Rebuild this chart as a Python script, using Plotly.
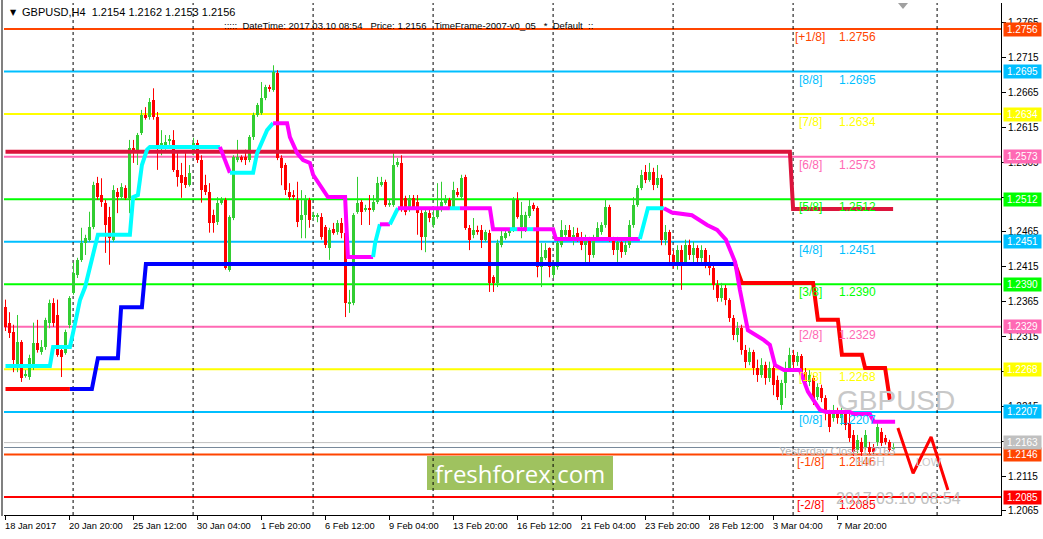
import plotly.graph_objects as go

# ---------------- data ----------------
open_ = [1.2358,1.2335,1.2322,1.2270,1.2307,1.2259,1.2257,1.2271,1.2306,1.2293,
         1.2300,1.2335,1.2363,1.2346,1.2296,1.2292,1.2332,1.2378,1.2403,1.2425,
         1.2449,1.2454,1.2472,1.2535,1.2518,1.2507,1.2487,1.2454,1.2522,1.2515,
         1.2528,1.2514,1.2585,1.2583,1.2607,1.2633,1.2630,1.2654,1.2630,1.2590,
         1.2585,1.2596,1.2597,1.2554,1.2547,1.2544,1.2532,1.2583,1.2593,1.2568,
         1.2532,1.2522,1.2489,1.2479,1.2507,1.2511,1.2411,1.2485,1.2568,1.2573,
         1.2573,1.2568,1.2601,1.2633,1.2636,1.2657,1.2673,1.2669,1.2693,1.2571,
         1.2561,1.2522,1.2518,1.2511,1.2482,1.2489,1.2511,1.2487,1.2487,1.2487,
         1.2472,1.2442,1.2469,1.2465,1.2478,1.2464,1.2363,1.2363,1.2494,1.2508,
         1.2497,1.2499,1.2497,1.2508,1.2532,1.2537,1.2504,1.2504,1.2561,1.2564,
         1.2514,1.2497,1.2514,1.2508,1.2492,1.2458,1.2492,1.2475,1.2487,1.2497,
         1.2507,1.2511,1.2499,1.2522,1.2515,1.2544,1.2471,1.2461,1.2468,1.2468,
         1.2454,1.2464,1.2400,1.2392,1.2446,1.2456,1.2464,1.2468,1.2511,1.2472,
         1.2471,1.2488,1.2504,1.2499,1.2415,1.2428,1.2442,1.2403,1.2415,1.2446,
         1.2461,1.2468,1.2456,1.2464,1.2456,1.2446,1.2454,1.2432,1.2456,1.2465,
         1.2475,1.2501,1.2454,1.2439,1.2451,1.2436,1.2446,1.2475,1.2504,1.2528,
         1.2551,1.2540,1.2551,1.2532,1.2542,1.2454,1.2465,1.2432,1.2422,1.2439,
         1.2422,1.2446,1.2432,1.2442,1.2428,1.2439,1.2422,1.2413,1.2389,1.2370,
         1.2385,1.2368,1.2342,1.2317,1.2327,1.2296,1.2279,1.2293,1.2270,1.2260,
         1.2274,1.2256,1.2270,1.2253,1.2217,1.2249,1.2270,1.2289,1.2279,1.2287,
         1.2264,1.2250,1.2256,1.2228,1.2241,1.2227,1.2205,1.2198,1.2207,1.2198,
         1.2205,1.2191,1.2174,1.2152,1.2164,1.2157,1.2157,1.2157,1.2164,1.2178,
         1.2170,1.2164,1.2154]
high = [1.2368,1.2350,1.2332,1.2346,1.2310,1.2267,1.2289,1.2335,1.2339,1.2310,
        1.2342,1.2368,1.2370,1.2368,1.2303,1.2325,1.2373,1.2421,1.2428,1.2471,
        1.2461,1.2494,1.2537,1.2544,1.2542,1.2511,1.2501,1.2532,1.2528,1.2535,
        1.2532,1.2597,1.2597,1.2607,1.2640,1.2644,1.2657,1.2671,1.2637,1.2611,
        1.2604,1.2604,1.2611,1.2578,1.2564,1.2578,1.2561,1.2600,1.2597,1.2575,
        1.2547,1.2535,1.2497,1.2515,1.2515,1.2514,1.2489,1.2575,1.2597,1.2575,
        1.2583,1.2604,1.2636,1.2650,1.2680,1.2676,1.2676,1.2704,1.2697,1.2575,
        1.2564,1.2535,1.2525,1.2537,1.2525,1.2518,1.2514,1.2494,1.2492,1.2492,
        1.2475,1.2471,1.2478,1.2482,1.2485,1.2468,1.2382,1.2492,1.2544,1.2511,
        1.2504,1.2518,1.2518,1.2544,1.2544,1.2540,1.2511,1.2578,1.2571,1.2575,
        1.2517,1.2518,1.2518,1.2518,1.2497,1.2497,1.2499,1.2499,1.2535,1.2537,
        1.2518,1.2514,1.2537,1.2528,1.2547,1.2547,1.2475,1.2485,1.2474,1.2475,
        1.2468,1.2468,1.2403,1.2454,1.2468,1.2468,1.2471,1.2515,1.2522,1.2508,
        1.2494,1.2511,1.2507,1.2502,1.2449,1.2449,1.2443,1.2422,1.2454,1.2482,
        1.2475,1.2475,1.2472,1.2471,1.2465,1.2461,1.2458,1.2461,1.2479,1.2479,
        1.2511,1.2504,1.2458,1.2458,1.2454,1.2454,1.2482,1.2515,1.2532,1.2554,
        1.2561,1.2564,1.2557,1.2561,1.2547,1.2475,1.2468,1.2439,1.2446,1.2446,
        1.2454,1.2454,1.2451,1.2446,1.2446,1.2442,1.2432,1.2418,1.2396,1.2392,
        1.2389,1.2370,1.2346,1.2336,1.2332,1.2303,1.2299,1.2296,1.2282,1.2284,
        1.2279,1.2279,1.2274,1.2259,1.2253,1.2279,1.2299,1.2296,1.2293,1.2290,
        1.2270,1.2267,1.2260,1.2248,1.2246,1.2231,1.2210,1.2217,1.2213,1.2213,
        1.2210,1.2207,1.2181,1.2174,1.2170,1.2181,1.2164,1.2161,1.2191,1.2184,
        1.2174,1.2167,1.2162]
low = [1.2323,1.2313,1.2264,1.2264,1.2250,1.2256,1.2253,1.2267,1.2292,1.2289,
       1.2296,1.2327,1.2329,1.2286,1.2257,1.2289,1.2327,1.2375,1.2399,1.2422,
       1.2432,1.2451,1.2469,1.2511,1.2501,1.2435,1.2418,1.2451,1.2492,1.2511,
       1.2511,1.2492,1.2564,1.2561,1.2604,1.2626,1.2626,1.2626,1.2554,1.2575,
       1.2583,1.2590,1.2551,1.2530,1.2514,1.2528,1.2530,1.2575,1.2564,1.2507,
       1.2518,1.2464,1.2464,1.2475,1.2504,1.2411,1.2408,1.2482,1.2565,1.2565,
       1.2561,1.2565,1.2597,1.2630,1.2633,1.2654,1.2666,1.2666,1.2568,1.2532,
       1.2518,1.2511,1.2511,1.2472,1.2456,1.2456,1.2471,1.2482,1.2479,1.2454,
       1.2442,1.2425,1.2461,1.2461,1.2456,1.2343,1.2349,1.2360,1.2491,1.2475,
       1.2494,1.2475,1.2494,1.2505,1.2530,1.2501,1.2501,1.2501,1.2558,1.2494,
       1.2489,1.2494,1.2497,1.2461,1.2439,1.2436,1.2479,1.2471,1.2484,1.2494,
       1.2504,1.2498,1.2497,1.2515,1.2512,1.2468,1.2439,1.2456,1.2461,1.2442,
       1.2451,1.2379,1.2379,1.2386,1.2443,1.2454,1.2459,1.2465,1.2484,1.2456,
       1.2465,1.2485,1.2495,1.2400,1.2386,1.2425,1.2400,1.2399,1.2411,1.2443,
       1.2458,1.2454,1.2446,1.2451,1.2439,1.2422,1.2422,1.2428,1.2454,1.2461,
       1.2471,1.2451,1.2432,1.2422,1.2428,1.2432,1.2442,1.2471,1.2501,1.2525,
       1.2535,1.2537,1.2525,1.2528,1.2446,1.2446,1.2422,1.2413,1.2411,1.2382,
       1.2418,1.2425,1.2422,1.2418,1.2422,1.2413,1.2403,1.2382,1.2365,1.2365,
       1.2360,1.2336,1.2310,1.2307,1.2289,1.2270,1.2274,1.2260,1.2250,1.2256,
       1.2246,1.2250,1.2231,1.2224,1.2210,1.2227,1.2267,1.2270,1.2273,1.2258,
       1.2241,1.2244,1.2217,1.2224,1.2221,1.2195,1.2178,1.2193,1.2190,1.2188,
       1.2181,1.2164,1.2144,1.2148,1.2144,1.2152,1.2145,1.2145,1.2158,1.2158,
       1.2160,1.2150,1.2153]
close = [1.2329,1.2320,1.2282,1.2307,1.2256,1.2261,1.2284,1.2306,1.2296,1.2300,
         1.2339,1.2363,1.2335,1.2289,1.2286,1.2322,1.2370,1.2406,1.2425,1.2449,
         1.2456,1.2472,1.2532,1.2515,1.2508,1.2475,1.2456,1.2525,1.2515,1.2530,
         1.2514,1.2585,1.2578,1.2604,1.2633,1.2628,1.2651,1.2630,1.2585,1.2593,
         1.2594,1.2597,1.2554,1.2544,1.2535,1.2532,1.2550,1.2593,1.2568,1.2525,
         1.2522,1.2478,1.2478,1.2507,1.2511,1.2413,1.2487,1.2573,1.2573,1.2568,
         1.2568,1.2601,1.2633,1.2647,1.2657,1.2673,1.2671,1.2694,1.2571,1.2557,
         1.2525,1.2515,1.2515,1.2479,1.2489,1.2511,1.2482,1.2489,1.2488,1.2458,
         1.2446,1.2468,1.2464,1.2478,1.2464,1.2363,1.2365,1.2489,1.2507,1.2494,
         1.2499,1.2497,1.2508,1.2535,1.2537,1.2504,1.2507,1.2561,1.2565,1.2497,
         1.2494,1.2514,1.2501,1.2492,1.2458,1.2494,1.2485,1.2487,1.2497,1.2508,
         1.2511,1.2501,1.2525,1.2518,1.2542,1.2471,1.2454,1.2468,1.2465,1.2454,
         1.2465,1.2392,1.2392,1.2449,1.2459,1.2464,1.2468,1.2511,1.2487,1.2489,
         1.2489,1.2502,1.2498,1.2415,1.2429,1.2439,1.2415,1.2418,1.2449,1.2468,
         1.2468,1.2458,1.2461,1.2456,1.2446,1.2454,1.2432,1.2456,1.2471,1.2475,
         1.2501,1.2454,1.2439,1.2451,1.2436,1.2446,1.2475,1.2504,1.2528,1.2547,
         1.2540,1.2551,1.2532,1.2542,1.2454,1.2465,1.2432,1.2422,1.2439,1.2422,
         1.2446,1.2432,1.2442,1.2428,1.2439,1.2422,1.2413,1.2389,1.2370,1.2385,
         1.2368,1.2342,1.2317,1.2327,1.2296,1.2279,1.2293,1.2270,1.2260,1.2274,
         1.2256,1.2270,1.2246,1.2228,1.2249,1.2270,1.2289,1.2279,1.2287,1.2264,
         1.2250,1.2260,1.2224,1.2243,1.2227,1.2205,1.2185,1.2207,1.2199,1.2205,
         1.2188,1.2170,1.2150,1.2167,1.2150,1.2174,1.2150,1.2150,1.2185,1.2162,
         1.2164,1.2152,1.2156]

# Murrey math levels
level_names = ["[+1/8]", "[8/8]", "[7/8]", "[6/8]", "[5/8]", "[4/8]",
               "[3/8]", "[2/8]", "[1/8]", "[0/8]", "[-1/8]", "[-2/8]"]
level_values = [1.2756, 1.2695, 1.2634, 1.2573, 1.2512, 1.2451,
                1.2390, 1.2329, 1.2268, 1.2207, 1.2146, 1.2085]
yesterday_close = 1.2163
bid_price = 1.2156

# axis ticks
y_ticks = [1.2065, 1.2115, 1.2165, 1.2215, 1.2265, 1.2315, 1.2365, 1.2415,
           1.2465, 1.2515, 1.2565, 1.2615, 1.2665, 1.2715, 1.2765]
x_tick_bars = [0, 16, 32, 48, 64, 80, 96, 112, 128, 144, 160, 176, 192, 208]
x_tick_labels = ["18 Jan 2017", "20 Jan 20:00", "25 Jan 12:00", "30 Jan 04:00",
                 "1 Feb 20:00", "6 Feb 12:00", "9 Feb 04:00", "13 Feb 20:00",
                 "16 Feb 12:00", "21 Feb 04:00", "23 Feb 20:00", "28 Feb 12:00",
                 "3 Mar 04:00", "7 Mar 20:00"]
grid_bars = [16.9, 46.9, 76.9, 106.9, 136.9, 166.9, 196.9, 232.9]

# trend stop line (state 1 = up/blue, -1 = down/red)
trend_segments = [
    (-1, [0, 16.1], [1.2240, 1.2240]),
    (1, [16.1, 21.6, 23.1, 28.1, 28.9, 34.1, 35.1, 182.4],
        [1.2240, 1.2240, 1.2284, 1.2284, 1.2357, 1.2357, 1.2419, 1.2419]),
    (-1, [182.4, 184.1, 201.9, 203.1, 208.1, 209.1, 214.1, 214.9, 219.9, 221.1],
         [1.2419, 1.2392, 1.2392, 1.2339, 1.2339, 1.2289, 1.2289, 1.2270, 1.2270, 1.2224]),
]
# trailing line (1 = cyan, -1 = magenta)
trail_segments = [
    (1, [0, 11.1, 11.9, 16.1, 17.4, 18.6, 19.9, 21.1, 22.4, 23.1, 31.1, 31.9, 33.1, 34.1, 35.4, 36.1, 53.6],
        [1.2273, 1.2273, 1.2300, 1.2300, 1.2334, 1.2367, 1.2386, 1.2415, 1.2443, 1.2461, 1.2461,
         1.2515, 1.2518, 1.2561, 1.2583, 1.2587, 1.2587]),
    (-1, [53.6, 56.1], [1.2587, 1.2550]),
    (1, [56.1, 61.9, 62.9, 65.4, 66.9], [1.2550, 1.2550, 1.2578, 1.2611, 1.2621]),
    (-1, [66.9, 70.4, 71.1, 72.4, 72.9, 74.4, 76.1, 76.9, 78.6, 80.6, 84.9, 85.4, 85.6, 91.9],
         [1.2621, 1.2621, 1.2601, 1.2583, 1.2578, 1.2568, 1.2564, 1.2547, 1.2532, 1.2515, 1.2515,
          1.2468, 1.2429, 1.2429]),
    (1, [91.9, 92.4, 93.6], [1.2429, 1.2449, 1.2476]),
    (-1, [93.6, 96.1], [1.2476, 1.2476]),
    (1, [96.1, 98.1], [1.2476, 1.2499]),
    (-1, [98.1, 111.1], [1.2499, 1.2499]),
    (1, [111.1, 113.6], [1.2499, 1.2499]),
    (-1, [113.6, 121.1, 121.9, 126.1], [1.2499, 1.2499, 1.2469, 1.2469]),
    (1, [126.1, 127.9], [1.2469, 1.2469]),
    (-1, [127.9, 130.4], [1.2469, 1.2469]),
    (1, [130.4, 131.9], [1.2469, 1.2469]),
    (-1, [131.9, 136.9, 137.6, 158.6], [1.2469, 1.2469, 1.2455, 1.2455]),
    (1, [158.6, 160.6, 164.6], [1.2455, 1.2499, 1.2499]),
    (-1, [164.6, 166.6, 171.6, 175.4, 177.9, 180.1, 182.4, 183.6, 185.6, 189.6, 191.1, 192.4,
          194.6, 198.6, 200.6, 203.6, 205.1, 211.1, 212.1, 216.1, 217.1, 222.4],
         [1.2499, 1.2493, 1.2489, 1.2475, 1.2468, 1.2454, 1.2422, 1.2382, 1.2324, 1.2310, 1.2303,
          1.2274, 1.2267, 1.2267, 1.2236, 1.2210, 1.2207, 1.2207, 1.2204, 1.2204, 1.2193, 1.2193]),
]
# resistance line
resist_x = [0, 196.1, 196.9, 221.9]
resist_y = [1.2580, 1.2580, 1.2498, 1.2498]
# projected zigzag
zz_x = [223.1, 226.9, 231.4, 235.6]
zz_y = [1.2184, 1.2119, 1.2171, 1.2095]

# ---------------- styling ----------------
W, H = 1043, 539
ML, MR, MT, MB = 4, 42, 3, 24
Y_TOP, Y_BOT = 1.27933, 1.20592
X_MIN, X_MAX = -0.375, 248.875
FONT = "Liberation Sans"
level_colors = ["#FF4500", "#00BFFF", "#FFFF00", "#FF69B4", "#00FF00", "#00BFFF",
                "#00FF00", "#FF69B4", "#FFFF00", "#00BFFF", "#FF4500", "#FF0000"]
UP, DN = "#32CD32", "#FF0000"

def px(xp):
    return (xp - ML) / (W - ML - MR)

def py(yp):
    return (H - MB - yp) / (H - MT - MB)

fig = go.Figure()
shapes = []
ann = []

# logo box (below everything)
shapes.append(dict(type="rect", xref="paper", yref="paper", x0=px(427), x1=px(613),
                   y0=py(490), y1=py(456), fillcolor="#9fc25f", line=dict(width=0), layer="below"))
# level lines
for v, c in zip(level_values, level_colors):
    shapes.append(dict(type="line", xref="paper", x0=0, x1=1, yref="y", y0=v, y1=v,
                       line=dict(color=c, width=2), layer="below"))
shapes.append(dict(type="line", xref="paper", x0=0, x1=1, yref="y", y0=yesterday_close,
                   y1=yesterday_close, line=dict(color="#C0C0C0", width=1), layer="below"))
shapes.append(dict(type="line", xref="paper", x0=0, x1=1, yref="y", y0=bid_price,
                   y1=bid_price, line=dict(color="#778899", width=1), layer="below"))
# grid
for g in grid_bars:
    shapes.append(dict(type="line", xref="x", x0=g, x1=g, yref="paper", y0=0, y1=1,
                       line=dict(color="black", width=1, dash="3px,3px"), layer="below"))
# window frame bits
shapes.append(dict(type="line", xref="paper", yref="paper", x0=px(2), x1=px(2), y0=py(0), y1=py(516),
                   line=dict(color="#808080", width=2)))
shapes.append(dict(type="path", xref="paper", yref="paper",
                   path=f"M {px(898)} {py(3)} L {px(908)} {py(3)} L {px(903)} {py(9)} Z",
                   fillcolor="#A0A0A0", line=dict(width=0)))

# candles
N = len(close)
for up in (True, False):
    idx = [i for i in range(N) if (close[i] >= open_[i]) == up]
    col = UP if up else DN
    wx, wy = [], []
    for i in idx:
        wx += [i, i, None]
        wy += [low[i], high[i], None]
    fig.add_trace(go.Scatter(x=wx, y=wy, mode="lines", line=dict(color=col, width=1),
                             hoverinfo="skip", showlegend=False))
    fig.add_trace(go.Bar(x=idx, base=[min(open_[i], close[i]) for i in idx],
                         y=[max(abs(close[i] - open_[i]), 0.00008) for i in idx],
                         width=0.75, marker=dict(color=col, line=dict(width=0)),
                         hoverinfo="skip", showlegend=False))

# resistance line
fig.add_trace(go.Scatter(x=resist_x, y=resist_y, mode="lines",
                         line=dict(color="#DC143C", width=4), showlegend=False))
# trend stop
for st, xs, ys in trend_segments:
    fig.add_trace(go.Scatter(x=xs, y=ys, mode="lines",
                             line=dict(color="#0000FF" if st > 0 else "#FF0000", width=4),
                             showlegend=False))
for st, xs, ys in trail_segments:
    fig.add_trace(go.Scatter(x=xs, y=ys, mode="lines",
                             line=dict(color="#00FFFF" if st > 0 else "#FF00FF", width=4),
                             showlegend=False))
fig.add_trace(go.Scatter(x=zz_x, y=zz_y, mode="lines", line=dict(color="#FF0000", width=3),
                         showlegend=False))

# level labels
for n, v, c in zip(level_names, level_values, level_colors):
    ann.append(dict(text=n, x=px(810), xref="paper", y=v, yref="y", yshift=-8,
                    xanchor="center", yanchor="middle", showarrow=False,
                    font=dict(family=FONT, size=12, color=c)))
    ann.append(dict(text=f"{v:.4f}", x=px(857), xref="paper", y=v, yref="y", yshift=-8,
                    xanchor="center", yanchor="middle", showarrow=False,
                    font=dict(family=FONT, size=12, color=c)))
    ann.append(dict(text=f"{v:.4f}", x=1, xref="paper", xshift=2, y=v, yref="y",
                    xanchor="left", yanchor="middle", showarrow=False, bgcolor=c,
                    borderpad=1, width=35, font=dict(family=FONT, size=10, color="white")))
ann.append(dict(text=f"{yesterday_close:.4f}", x=1, xref="paper", xshift=2, y=yesterday_close,
                yref="y", xanchor="left", yanchor="middle", showarrow=False, bgcolor="#C0C0C0",
                borderpad=1, width=35, font=dict(family=FONT, size=10, color="white")))

# x labels
for b, t in zip(x_tick_bars, x_tick_labels):
    ann.append(dict(text=t, x=b, xref="x", xshift=-3, y=py(526), yref="paper", xanchor="left",
                    yanchor="middle", showarrow=False, font=dict(family=FONT, size=9.3, color="black")))

# texts
ann.append(dict(text="▼", x=px(8), y=py(12), xref="paper", yref="paper", xanchor="left",
                yanchor="middle", showarrow=False, font=dict(family="DejaVu Sans", size=8, color="black")))
ann.append(dict(text="GBPUSD,H4  1.2154 1.2162 1.2153 1.2156", x=px(20), y=py(12), xref="paper",
                yref="paper", xanchor="left", yanchor="middle", showarrow=False,
                font=dict(family=FONT, size=11, color="black")))
ann.append(dict(text=":::::  DateTime: 2017.03.10 08:54   Price: 1.2156   TimeFrame-2007-v0_05   *  Default  ::",
                x=px(222), y=py(25), xref="paper", yref="paper", xanchor="left", yanchor="middle",
                showarrow=False, font=dict(family=FONT, size=9.5, color="black")))
ann.append(dict(text="GBPUSD", x=px(896), y=py(400), xref="paper", yref="paper", xanchor="center",
                yanchor="middle", showarrow=False, font=dict(family=FONT, size=28, color="#C8C8C8")))
ann.append(dict(text="Yesterday Close 1.2163", x=px(777), y=py(451), xref="paper", yref="paper",
                xanchor="left", yanchor="middle", showarrow=False,
                font=dict(family=FONT, size=11, color="#B4B4B4")))
ann.append(dict(text="HIGH", x=px(870), y=py(462), xref="paper", yref="paper", xanchor="center",
                yanchor="middle", showarrow=False, font=dict(family=FONT, size=12, color="#C8C8C8")))
ann.append(dict(text="LOW", x=px(929), y=py(462), xref="paper", yref="paper", xanchor="center",
                yanchor="middle", showarrow=False, font=dict(family=FONT, size=11, color="#C8C8C8")))
ann.append(dict(text="2017.03.10 08:54", x=px(898), y=py(498), xref="paper", yref="paper",
                xanchor="center", yanchor="middle", showarrow=False,
                font=dict(family=FONT, size=16, color="#C0C0C0")))
ann.append(dict(text="freshforex.com", x=px(520), y=py(473), xref="paper", yref="paper",
                xanchor="center", yanchor="middle", showarrow=False,
                font=dict(family="Open Sans", size=24, color="white")))

fig.update_layout(
    width=W, height=H, margin=dict(l=ML, r=MR, t=MT, b=MB),
    paper_bgcolor="white", plot_bgcolor="white", barmode="overlay", bargap=0,
    showlegend=False, shapes=shapes, annotations=ann,
    xaxis=dict(range=[X_MIN, X_MAX], showgrid=False, zeroline=False, showline=True,
               linecolor="black", linewidth=1, tickvals=x_tick_bars, ticktext=[""] * len(x_tick_bars),
               ticks="outside", ticklen=4, tickcolor="black", fixedrange=True),
    yaxis=dict(range=[Y_BOT, Y_TOP], side="right", showgrid=False, zeroline=False, showline=True,
               linecolor="black", linewidth=1, tickvals=y_ticks,
               ticktext=[f"{v:.4f}" for v in y_ticks], ticks="outside", ticklen=4,
               tickcolor="black", tickfont=dict(family=FONT, size=10, color="black"), fixedrange=True),
)
fig.write_html("out.html", config={"displayModeBar": False},
               post_script="document.body.style.margin='0';document.body.style.overflow='hidden';")
